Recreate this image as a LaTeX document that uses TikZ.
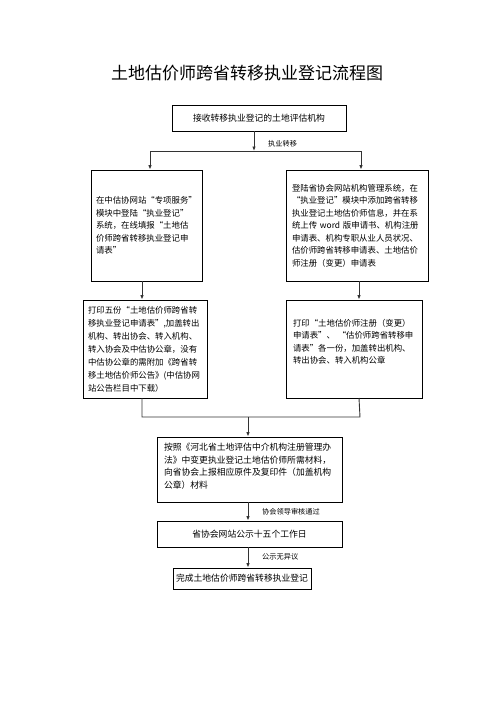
\documentclass[tikz,border=0pt]{standalone}
\usepackage{fontspec}
\setmainfont{Noto Sans CJK SC}
\newcommand{\cjkql}{\makebox[1em][r]{“}}
\newcommand{\cjkqr}{\makebox[1em][l]{”}}
\usetikzlibrary{arrows.meta}
\begin{document}
\begin{tikzpicture}[x=1pt,y=-1pt,
  box/.style={draw=black,line width=0.8pt,inner sep=0pt,minimum width=#1},
  txt/.style={font=\fontsize{8.4}{12.5}\selectfont,align=left},
  lab/.style={font=\fontsize{7.2}{8}\selectfont,anchor=west,inner sep=0pt},
  conn/.style={line width=0.9pt,draw=black!80},
  arr/.style={conn,-{Latex[length=4.5pt,width=3.5pt]}}]
\useasboundingbox (0,0) rectangle (496,702);
\node[font=\fontsize{17}{17}\selectfont] (title) at (247,73) {土地估价师跨省转移执业登记流程图};
% boxes
\node[box=174pt,minimum height=26pt,font=\fontsize{8.8}{12}\selectfont] (b1) at (259,118) {接收转移执业登记的土地评估机构};
\node[box=111pt,minimum height=111pt,txt,text width=101pt] (b2l) at (146.5,225.5) {在中估协网站\cjkql 专项服务\cjkqr\\模块中登陆\cjkql 执业登记\cjkqr\\系统，在线填报\cjkql 土地估\\价师跨省转移执业登记申\\请表\cjkqr};
\node[box=142pt,minimum height=111pt,txt,text width=130pt] (b2r) at (357,225.5) {登陆省协会网站机构管理系统，在\\\cjkql 执业登记\cjkqr 模块中添加跨省转移\\执业登记土地估价师信息，并在系\\统上传 word 版申请书、机构注册\\申请表、机构专职从业人员状况、\\估价师跨省转移申请表、土地估价\\师注册（变更）申请表};
\node[box=124pt,minimum height=98pt,txt,text width=114pt,font=\fontsize{8.4}{13}\selectfont] (b3l) at (145,349) {打印五份\cjkql 土地估价师跨省转\\移执业登记申请表”,加盖转出\\机构、转出协会、转入机构、\\转入协会及中估协公章，没有\\中估协公章的需附加《跨省转\\移土地估价师公告》(中估协网\\站公告栏目中下载）};
\node[box=136pt,minimum height=98pt,txt,text width=122pt] (b3r) at (354,349) {打印\cjkql 土地估价师注册（变更）\\申请表\cjkqr 、 \cjkql 估价师跨省转移申\\请表\cjkqr 各一份，加盖转出机构、\\转出协会、转入机构公章\\[3pt]\mbox{}};
\node[box=185pt,minimum height=65pt,txt,text width=171pt,font=\fontsize{8.8}{12.7}\selectfont] (b4) at (249.5,469.5) {按照《河北省土地评估中介机构注册管理办\\法》中变更执业登记土地估价师所需材料，\\向省协会上报相应原件及复印件（加盖机构\\公章）材料\\[-5.5pt]\mbox{}};
\node[box=185pt,minimum height=26pt,font=\fontsize{8.8}{12}\selectfont] (b5) at (249.5,534) {省协会网站公示十五个工作日};
\node[box=138pt,minimum height=21pt,font=\fontsize{8.8}{12}\selectfont] (b6) at (242,578.5) {完成土地估价师跨省转移执业登记};
% junction coordinates
\coordinate (t0) at (254,131);
\coordinate (j0) at (254,151);
\coordinate (jl) at (150,151);
\coordinate (jr) at (361,151);
\coordinate (c2l) at (142,281);
\coordinate (c2r) at (359,281);
\coordinate (c3l) at (142,398);
\coordinate (c3r) at (359,398);
\coordinate (m3l) at (142,417);
\coordinate (m3r) at (360,417);
\coordinate (m3) at (248,417);
% connectors
\draw[arr] (t0) -- (j0);
\draw[conn] (jl) -- (jr);
\draw[arr] (jl) -- (jl |- b2l.north);
\draw[arr] (jr) -- (jr |- b2r.north);
\draw[arr] (c2l) -- (c2l |- b3l.north);
\draw[arr] (c2r) -- (c2r |- b3r.north);
\draw[conn] (c3l) -- (m3l) -- (m3r) -- (c3r);
\draw[arr] (m3) -- (m3 |- b4.north);
\draw[arr] (b4.south -| m3) -- (m3 |- b5.north);
\draw[arr] (b5.south -| m3) -- (m3 |- b6.north);
% labels
\node[lab] (l1) at (268,144) {执业转移};
\node[lab] (l2) at (262,512) {协会领导审核通过};
\node[lab] (l3) at (262,557) {公示无异议};
\end{tikzpicture}
\end{document}
